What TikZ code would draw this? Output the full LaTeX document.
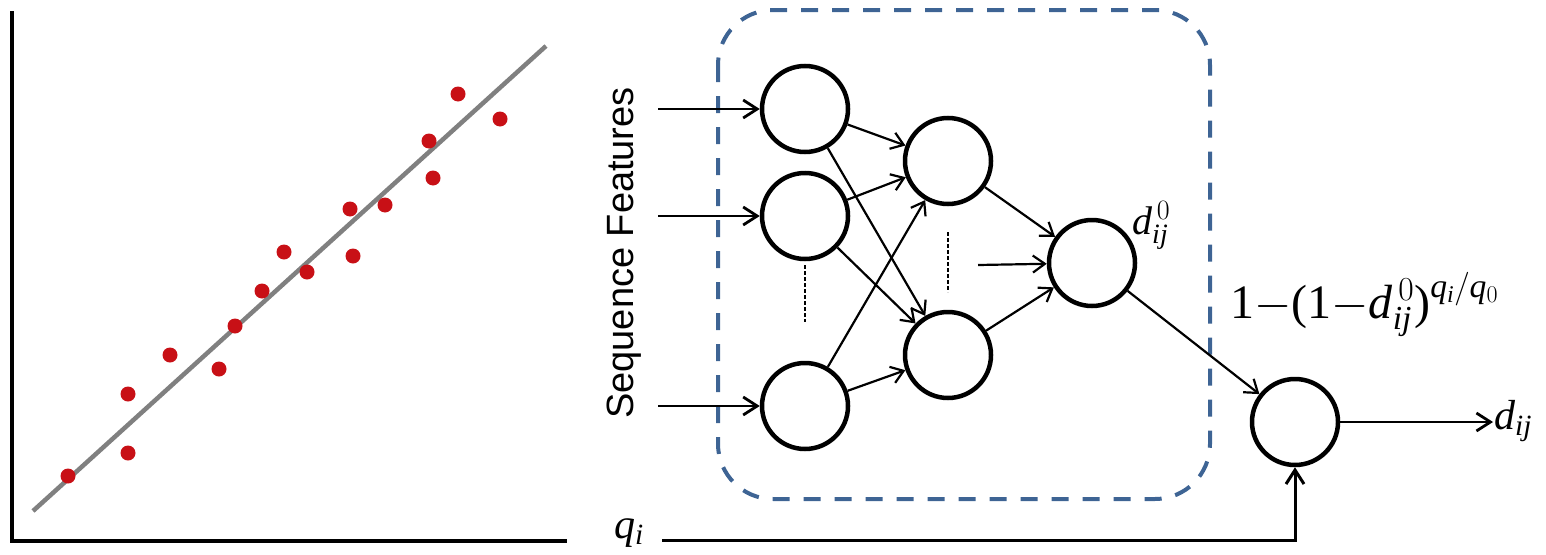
\RequirePackage{fix-cm}
\documentclass[tikz,border=0pt]{standalone}
\usepackage{fontspec}
\setmainfont{Liberation Serif}
\newfontfamily\sansf{Liberation Sans}
\usetikzlibrary{arrows.meta}
\definecolor{boxblue}{RGB}{62,100,148}
\definecolor{dotred}{RGB}{200,16,22}
\definecolor{fitgray}{RGB}{128,128,128}
\tikzset{
  neuron/.style={circle, draw, line width=4.5pt, minimum size=86pt, inner sep=0pt},
  conn/.style={-{Straight Barb[length=12pt,width=17pt]}, line width=2.2pt},
  bigconn/.style={-{Straight Barb[length=14pt,width=18pt]}, line width=2.8pt},
  ellip/.style={line width=1.6pt, dash pattern=on 3.5pt off 2.5pt},
  lbl/.style={inner sep=0pt, font=\fontsize{42}{44}\selectfont},
  dot/.style={fill=dotred}
}
\begin{document}
\begin{tikzpicture}[x=1pt,y=-1pt]
\useasboundingbox (0,0) rectangle (1546,554);
% --- left: regression plot
\draw[line width=3.5pt, line join=miter] (12,11) -- (12,541) -- (567,541);
\draw[fitgray, line width=4.5pt] (33,511) -- (546,46);
\foreach \px/\py in {68/476,128/453,128/394,170/355,219/369,235/326,262/291,284/252,307/272,350/209,353/256,385/205,429/141,433/178,458/94,500/119}
  \fill[dot] (\px,\py) circle (7.5pt);
% --- right: network
\draw[boxblue, line width=4pt, dash pattern=on 17pt off 14pt, rounded corners=55pt] (718,10) rectangle (1210,499);
\node[rotate=90, inner sep=0pt, font=\sansf\fontsize{38}{40}\selectfont] (sf) at (624,253) {Sequence Features};
\node[neuron] (L1a) at (805,109) {};
\node[neuron] (L1b) at (805,216) {};
\node[neuron] (L1c) at (805,406) {};
\node[neuron] (L2a) at (948,161) {};
\node[neuron] (L2b) at (948,355) {};
\node[neuron] (Out) at (1092,263) {};
\node[neuron] (Fin) at (1295,422) {};
\coordinate (i1) at (658,109);
\coordinate (i2) at (658,216);
\coordinate (i3) at (658,406);
\coordinate (i4) at (978,265);
\coordinate (e1) at (1493,422);
\coordinate (qs) at (662,540);
\draw[ellip] (805,265) -- (805,322);
\draw[ellip] (948,232) -- (948,292);
\draw[bigconn] (i1) -- (L1a);
\draw[bigconn] (i2) -- (L1b);
\draw[bigconn] (i3) -- (L1c);
\foreach \a in {L1a,L1b,L1c}
  \foreach \b in {L2a,L2b}
    \draw[conn] (\a) -- (\b);
\draw[conn] (L2a) -- (Out);
\draw[conn] (L2b) -- (Out);
\draw[conn] (i4) -- (Out);
\draw[conn] (Out) -- (Fin);
\draw[bigconn] (Fin) -- (e1);
\draw[bigconn, line width=3pt] (qs) -- (Fin.south |- qs) -- (Fin.south);
\node[lbl, anchor=base west] (dout) at (1494,429) {$\mathit{d}_{\mathit{ij}}$};
\node[lbl, anchor=base west] (qi) at (614,538) {$\mathit{q}_{\mathit{i}}$};
\node[lbl, anchor=base west, font=\fontsize{40}{42}\selectfont] (d0) at (1132,234) {$\mathit{d}^{\,0}_{\mathit{ij}}$};
\node[lbl, anchor=base west, font=\fontsize{48}{52}\selectfont] (form) at (1230,318) {$\mbox{1}{-}\mbox{(1}{-}\mathit{d}^{\,0}_{\mathit{ij}}\mbox{)}^{\mathit{q}_{\mathit{i}}/\mathit{q}_{0}}$};
\end{tikzpicture}
\end{document}
